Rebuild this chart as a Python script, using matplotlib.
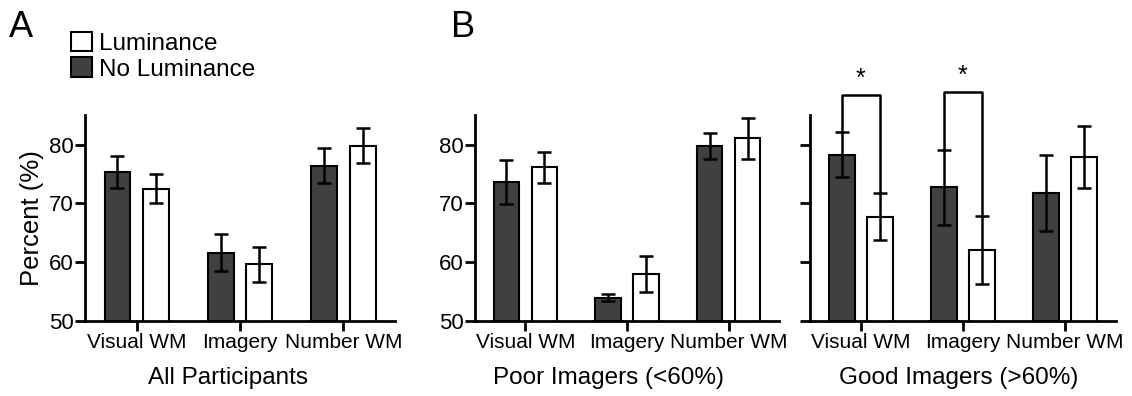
import numpy as np
import matplotlib.pyplot as plt
from matplotlib.patches import Patch

plt.rcParams['font.family'] = ['Liberation Sans', 'DejaVu Sans']

categories = ['Visual WM', 'Imagery', 'Number WM']

# All participants
all_noLum = [75.3, 61.6, 76.4]
all_noLum_err = [2.7, 3.1, 3.0]
all_lum = [72.5, 59.6, 79.8]
all_lum_err = [2.5, 3.0, 3.0]

# Poor imagers (<60%)
poor_noLum = [73.6, 53.9, 79.7]
poor_noLum_err = [3.7, 0.6, 2.2]
poor_lum = [76.1, 58.0, 81.1]
poor_lum_err = [2.7, 3.1, 3.5]

# Good imagers (>60%)
good_noLum = [78.3, 72.7, 71.8]
good_noLum_err = [3.8, 6.4, 6.5]
good_lum = [67.7, 62.0, 77.9]
good_lum_err = [4.0, 5.8, 5.3]

dark = '#404040'
W = 0.25
OFF = 0.186

fig = plt.figure(figsize=(11.32, 3.96), dpi=100)
axA = fig.add_axes([0.0751, 0.190, 0.2739, 0.519])
axB1 = fig.add_axes([0.4192, 0.190, 0.2694, 0.519])
axB2 = fig.add_axes([0.7155, 0.190, 0.2703, 0.519])


def draw(ax, nl, nle, l, le, xlabel, labx, yticklabels=True):
    x = np.arange(len(categories))
    ax.bar(x - OFF, nl, W, color=dark, edgecolor='black', linewidth=1.5, zorder=2)
    ax.bar(x + OFF, l, W, color='white', edgecolor='black', linewidth=1.5, zorder=2)
    ek = dict(fmt='none', ecolor='black', elinewidth=1.8, capsize=5, capthick=1.8, zorder=3)
    ax.errorbar(x - OFF, nl, yerr=nle, **ek)
    ax.errorbar(x + OFF, l, yerr=le, **ek)
    ax.set_xlim(-0.5, 2.5)
    ax.set_ylim(50, 85)
    ax.set_yticks([50, 60, 70, 80])
    if not yticklabels:
        ax.set_yticklabels([])
    ax.set_xticks(x)
    ax.set_xticklabels(categories, fontsize=15)
    ax.tick_params(axis='y', labelsize=16, width=2, length=7, pad=1)
    ax.tick_params(axis='x', width=2, length=7, pad=2)
    for s in ['top', 'right']:
        ax.spines[s].set_visible(False)
    for s in ['left', 'bottom']:
        ax.spines[s].set_linewidth(2)
    ax.set_xlabel(xlabel, fontsize=17.5)
    ax.xaxis.set_label_coords(labx, -0.225)


draw(axA, all_noLum, all_noLum_err, all_lum, all_lum_err, 'All Participants', 0.46)
axA.set_ylabel('Percent (%)', fontsize=18.5, labelpad=4)
draw(axB1, poor_noLum, poor_noLum_err, poor_lum, poor_lum_err, 'Poor Imagers (<60%)', 0.44)
draw(axB2, good_noLum, good_noLum_err, good_lum, good_lum_err, 'Good Imagers (>60%)', 0.487,
     yticklabels=False)

# significance brackets
for i, h in [(0, 88.4), (1, 88.9)]:
    y1 = good_noLum[i] + good_noLum_err[i]
    y2 = good_lum[i] + good_lum_err[i]
    axB2.plot([i - OFF, i - OFF, i + OFF, i + OFF], [y1, h, h, y2],
              color='black', lw=1.8, clip_on=False)
    axB2.text(i, h + 0.8, '*', ha='center', va='bottom', fontsize=18)

fig.text(0.008, 0.93, 'A', fontsize=26, va='center')
fig.text(0.398, 0.93, 'B', fontsize=26, va='center')

# legend
handles = [Patch(facecolor='white', edgecolor='black', lw=1.5),
           Patch(facecolor=dark, edgecolor='black', lw=1.5)]
fig.legend(handles, ['Luminance', 'No Luminance'], loc='upper left',
           bbox_to_anchor=(0.052, 0.95), frameon=False, fontsize=17.5,
           handlelength=0.85, handleheight=0.85, handletextpad=0.3,
           labelspacing=0.1, borderpad=0)

fig.savefig('out.png', dpi=100)
